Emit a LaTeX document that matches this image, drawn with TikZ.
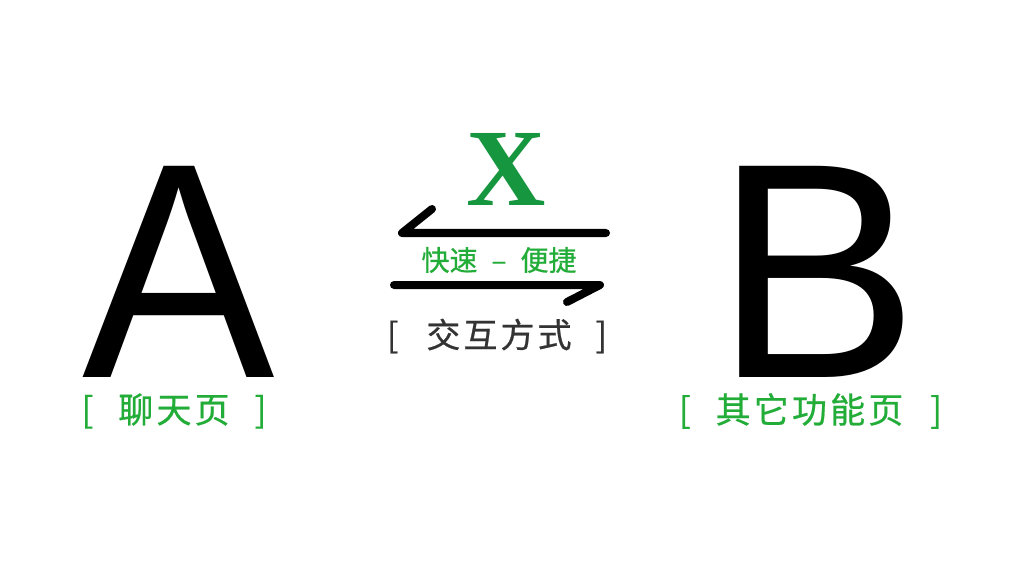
\documentclass[tikz,border=0pt]{standalone}
\usepackage{fontspec}
\setmainfont{Liberation Sans}
\newfontfamily\cjk[FakeBold=0.6]{Noto Sans CJK SC}
\newfontfamily\serifx{Liberation Serif}
\definecolor{lblgreen}{RGB}{34,172,56}
\definecolor{xgreen}{RGB}{22,150,62}
\definecolor{darkgray}{RGB}{51,51,51}
\begin{document}
\begin{tikzpicture}[x=1pt,y=-1pt,
  big/.style={inner sep=0pt,anchor=base,font=\fontsize{307}{307}\selectfont},
  lbl/.style={inner sep=0pt,text=lblgreen,font=\cjk\fontsize{35}{40}\selectfont\addfontfeature{LetterSpace=9}},
  mid/.style={inner sep=0pt,text=darkgray,font=\cjk\fontsize{34}{40}\selectfont\addfontfeature{LetterSpace=9}},
  arr/.style={line width=8pt,line cap=round,line join=round}]
\useasboundingbox[fill=white] (0,0) rectangle (1024,569);
% big letters
\node[big,xscale=0.94] (A) at (178.5,377) {A};
\node[big] (B) at (817,377) {B};
% X
\node[inner sep=0pt,anchor=base,text=xgreen,font=\serifx\bfseries\fontsize{110}{110}\selectfont] (X) at (506,206) {X};
% arrows
\coordinate (t1) at (402,233);
\coordinate (t2) at (606,233);
\coordinate (tb) at (432,209);
\coordinate (b1) at (394,285);
\coordinate (b2) at (600,285);
\coordinate (bb) at (567,302);
\draw[arr] (t2) -- (t1) -- (tb);
\draw[arr] (b1) -- (b2) -- (bb);
% middle caption
\node[inner sep=0pt,text=lblgreen,font=\cjk\fontsize{28}{30}\selectfont] (fast) at (499,260) {快速\hspace{14pt}–\hspace{14pt}便捷};
% interaction
\node[mid] (jh) at (497,336) {[\hspace{28pt}交互方式\hspace{24pt}]};
% labels
\node[lbl] (at) at (174,411) {[\hspace{25pt}聊天页\hspace{25pt}]};
\node[lbl] (bt) at (810.5,411) {[\hspace{25pt}其它功能页\hspace{27pt}]};
\end{tikzpicture}
\end{document}
